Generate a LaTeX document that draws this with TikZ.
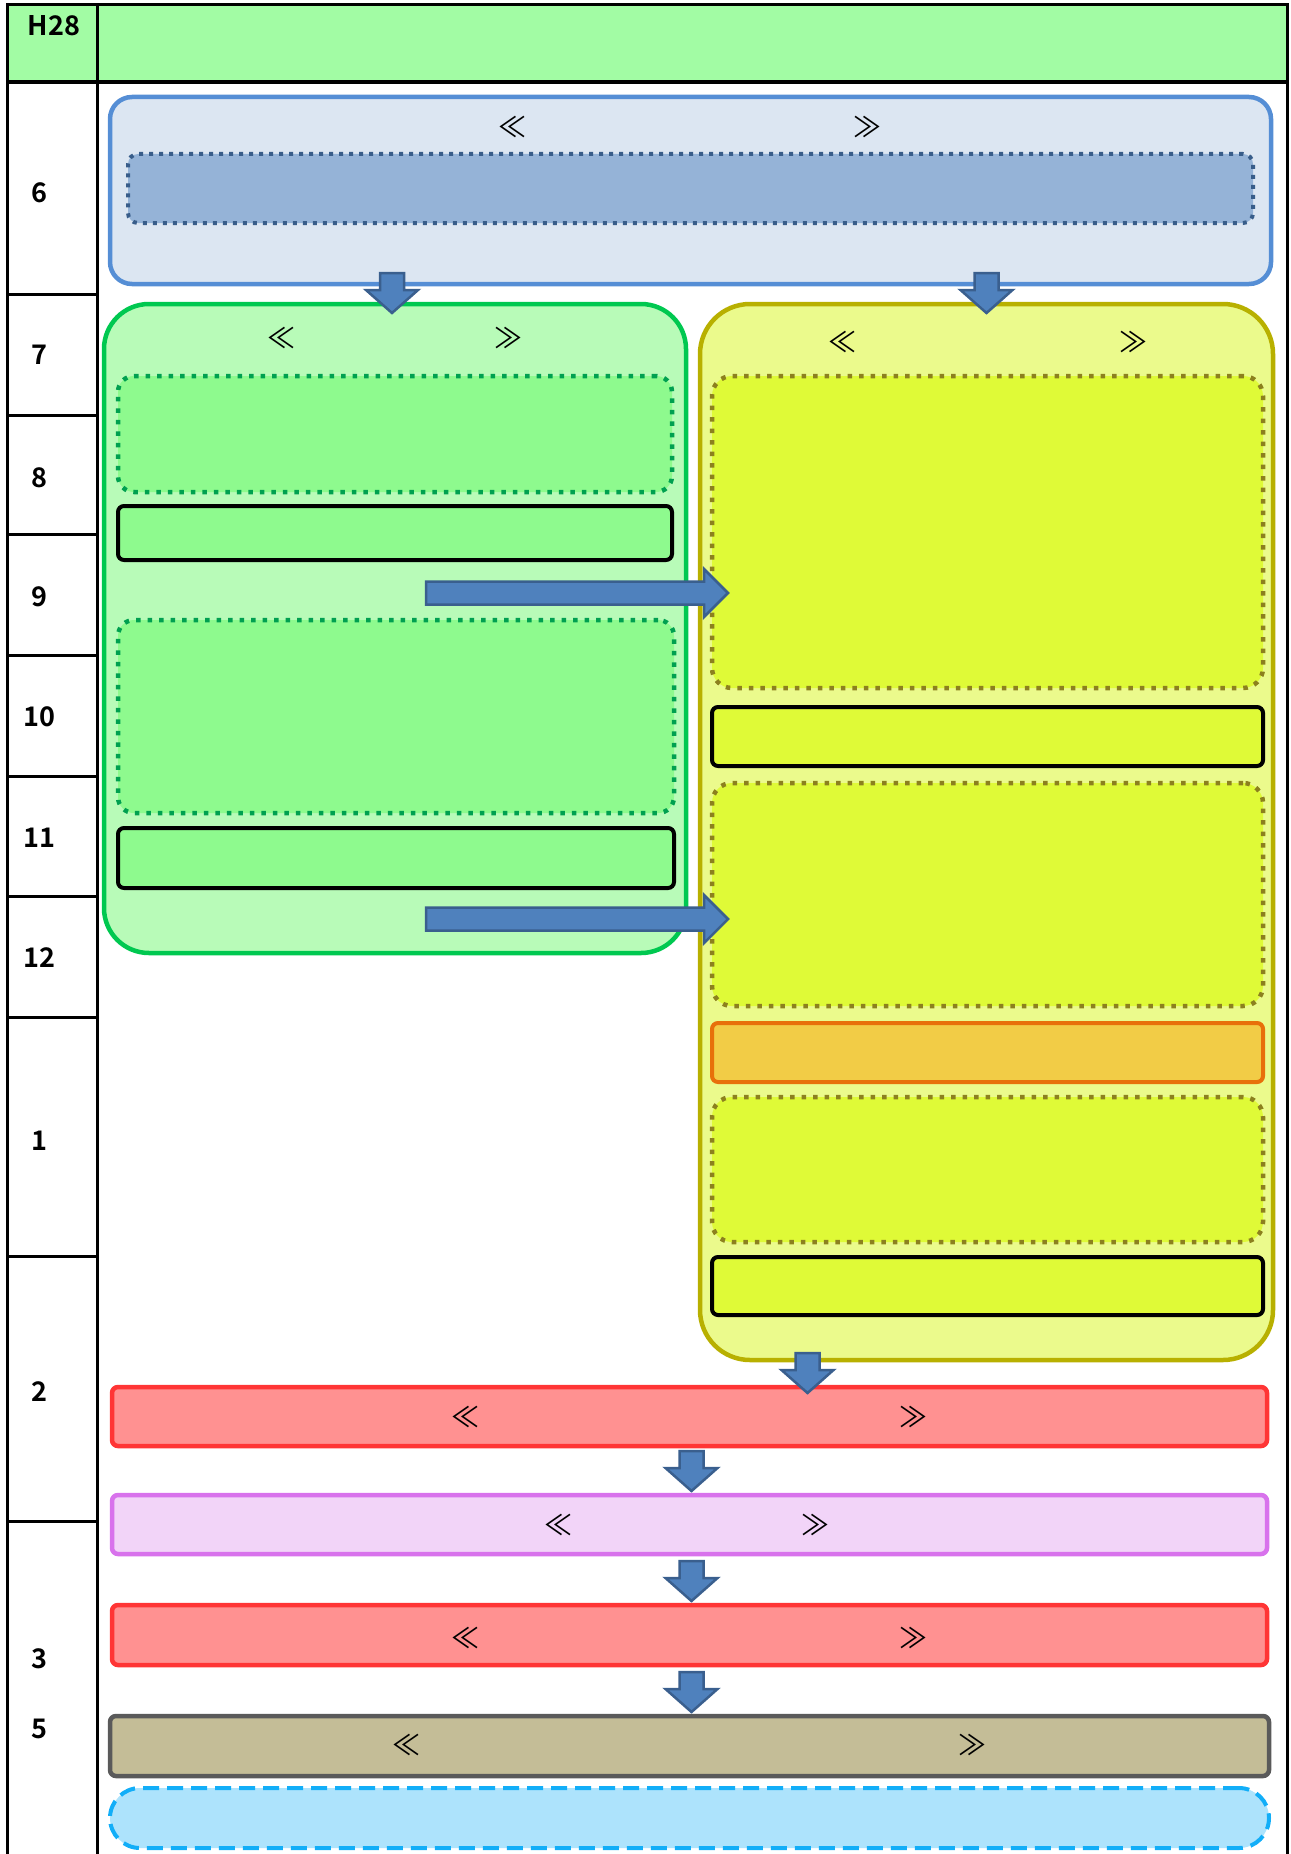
\documentclass[tikz,border=0pt]{standalone}
\usepackage{fontspec}
\setmainfont{Noto Sans CJK JP}[BoldFont={Noto Sans CJK JP Bold}]
\usepackage{tikz}
\usetikzlibrary{positioning}
\usetikzlibrary{calc}
\definecolor{hdrfill}{RGB}{162,252,164}
\definecolor{sixedge}{RGB}{85,142,213}
\definecolor{sixfill}{RGB}{220,230,242}
\definecolor{sixdot}{RGB}{56,93,138}
\definecolor{sixinfill}{RGB}{149,179,215}
\definecolor{grnedge}{RGB}{0,200,80}
\definecolor{grnfill}{RGB}{184,251,184}
\definecolor{grndot}{RGB}{0,160,80}
\definecolor{grninfill}{RGB}{142,250,142}
\definecolor{ylwedge}{RGB}{184,176,0}
\definecolor{ylwfill}{RGB}{235,250,140}
\definecolor{ylwdot}{RGB}{140,128,30}
\definecolor{ylwinfill}{RGB}{223,250,55}
\definecolor{orgedge}{RGB}{232,112,10}
\definecolor{orgfill}{RGB}{242,204,70}
\definecolor{rededge}{RGB}{255,53,53}
\definecolor{redfill}{RGB}{255,145,145}
\definecolor{ppledge}{RGB}{216,114,236}
\definecolor{pplfill}{RGB}{242,212,248}
\definecolor{brnedge}{RGB}{90,90,90}
\definecolor{brnfill}{RGB}{196,189,151}
\definecolor{cyanedge}{RGB}{18,174,248}
\definecolor{cyanfill}{RGB}{173,227,252}
\definecolor{arrfill}{RGB}{79,129,189}
\definecolor{arredge}{RGB}{58,95,142}

\begin{document}
\begin{tikzpicture}[x=1pt,y=-1pt,
  every node/.style={inner sep=0pt,outer sep=0pt},
  spot/.style n args={4}{at={(#1,#2)},anchor=north west,minimum width={#3-#1},minimum height={#4-#2}},
  grid/.style={line width=3},
  rowlab/.style={font=\fontsize{27}{30}\selectfont\bfseries},
  brk/.style={font=\fontsize{28}{30}\selectfont},
  sixbox/.style={draw=sixedge,fill=sixfill,line width=4.5,rounded corners=22},
  sixinner/.style={draw=sixdot,fill=sixinfill,line width=4,dash pattern=on 4 off 6,rounded corners=10},
  grnbox/.style={draw=grnedge,fill=grnfill,line width=4.5,rounded corners=45},
  grninner/.style={draw=grndot,fill=grninfill,line width=4.5,dash pattern=on 4.5 off 7,rounded corners=16},
  grnbar/.style={draw=black,fill=grninfill,line width=4,rounded corners=6},
  ylwbox/.style={draw=ylwedge,fill=ylwfill,line width=4.5,rounded corners=50},
  ylwinner/.style={draw=ylwdot,fill=ylwinfill,line width=4.5,dash pattern=on 4.5 off 7,rounded corners=20},
  ylwbar/.style={draw=black,fill=ylwinfill,line width=4,rounded corners=6},
  orgbar/.style={draw=orgedge,fill=orgfill,line width=4,rounded corners=6},
  redbar/.style={draw=rededge,fill=redfill,line width=4.5,rounded corners=6},
  pplbar/.style={draw=ppledge,fill=pplfill,line width=4.5,rounded corners=6},
  brnbar/.style={draw=brnedge,fill=brnfill,line width=4.5,rounded corners=6},
  cyanbar/.style={draw=cyanedge,fill=cyanfill,line width=4,dash pattern=on 16 off 8,rounded corners=30},
  blkarr/.style={draw=arredge,fill=arrfill,line width=2.5,line join=miter},
  downblk/.pic={\draw[blkarr] (-12,-40) -- (12,-40) -- (12,-23) -- (26,-23) -- (0,0)
    -- (-26,-23) -- (-12,-23) -- cycle;},
  rightblk/.pic={\draw[blkarr] (-302,-11.5) -- (-24,-11.5) -- (-24,-24) -- (0,0)
    -- (-24,24) -- (-24,11.5) -- (-302,11.5) -- cycle;}]

\useasboundingbox (0,0) rectangle (1290,1854);

% table
\fill[hdrfill] (7,5) rectangle (1287,82);
\draw[grid] (7,1854) -- (7,5) -- (1287,5) -- (1287,1854);
\draw[grid] (97,5) -- (97,1854);
\draw[line width=4] (7,82) -- (1287,82);
\foreach \y in {294,415,534,655,776,896,1017,1256,1521}
  \draw[grid] (7,\y) -- (97,\y);
\node[rowlab] (hdr) at (54,26) {H28};
\foreach \t/\y in {6/193,7/355,8/478,9/597,10/717,11/838,12/958,1/1141,2/1392,3/1659,5/1729}
  \node[rowlab] (m\t) at (39,\y) {\t};

% june
\node[sixbox,spot={110}{97}{1271}{284}] (six) {};
\node[sixinner,spot={128}{154}{1253}{223}] (sixin) {};
\node[brk] (sixl) at (512,127) {≪};
\node[brk] (sixr) at (867,127) {≫};

% left column
\node[grnbox,spot={104}{304}{686}{953}] (green) {};
\node[grninner,spot={118}{376}{672}{492}] (gdot1) {};
\node[grnbar,spot={118}{506}{672}{560}] (gbar1) {};
\node[grninner,spot={118}{620}{674}{813}] (gdot2) {};
\node[grnbar,spot={118}{828}{674}{888}] (gbar2) {};
\node[brk] (grnl) at (281,338) {≪};
\node[brk] (grnr) at (508,338) {≫};

% right column
\node[ylwbox,spot={700}{304}{1273}{1360}] (yellow) {};
\node[ylwinner,spot={712}{376}{1263}{688}] (ydot1) {};
\node[ylwbar,spot={712}{707}{1263}{766}] (ybar1) {};
\node[ylwinner,spot={712}{783}{1263}{1006}] (ydot2) {};
\node[orgbar,spot={712}{1023}{1263}{1082}] (obar) {};
\node[ylwinner,spot={712}{1097}{1263}{1242}] (ydot3) {};
\node[ylwbar,spot={712}{1257}{1263}{1315}] (ybar2) {};
\node[brk] (ylwl) at (842,342) {≪};
\node[brk] (ylwr) at (1133,342) {≫};

% bottom bars
\node[redbar,spot={112}{1387}{1267}{1446}] (red1) {};
\node[pplbar,spot={112}{1495}{1267}{1554}] (purple) {};
\node[redbar,spot={112}{1605}{1267}{1665}] (red2) {};
\node[brnbar,spot={110}{1716}{1269}{1776}] (brown) {};
\node[cyanbar,spot={110}{1788}{1269}{1848}] (cyan) {};
\node[brk] (red1l) at (465,1417) {≪};
\node[brk] (red1r) at (913,1417) {≫};
\node[brk] (ppll) at (558,1525) {≪};
\node[brk] (pplr) at (815,1525) {≫};
\node[brk] (red2l) at (465,1638) {≪};
\node[brk] (red2r) at (913,1638) {≫};
\node[brk] (brnl) at (406,1745) {≪};
\node[brk] (brnr) at (972,1745) {≫};

% arrows
\pic at ($(green.north)+(-3,9)$) {downblk};
\pic at ($(yellow.north)+(0,9)$) {downblk};
\pic at ($(green.east |- gbar1.south)+(42,33)$) {rightblk};
\pic at ($(green.east |- gbar2.south)+(42,31)$) {rightblk};
\pic at ($(red1.north)+(118,6)$) {downblk};
\pic at ($(purple.north)+(2,-4)$) {downblk};
\pic at ($(red2.north)+(2,-4)$) {downblk};
\pic at ($(brown.north)+(2,-4)$) {downblk};
\end{tikzpicture}
\end{document}
